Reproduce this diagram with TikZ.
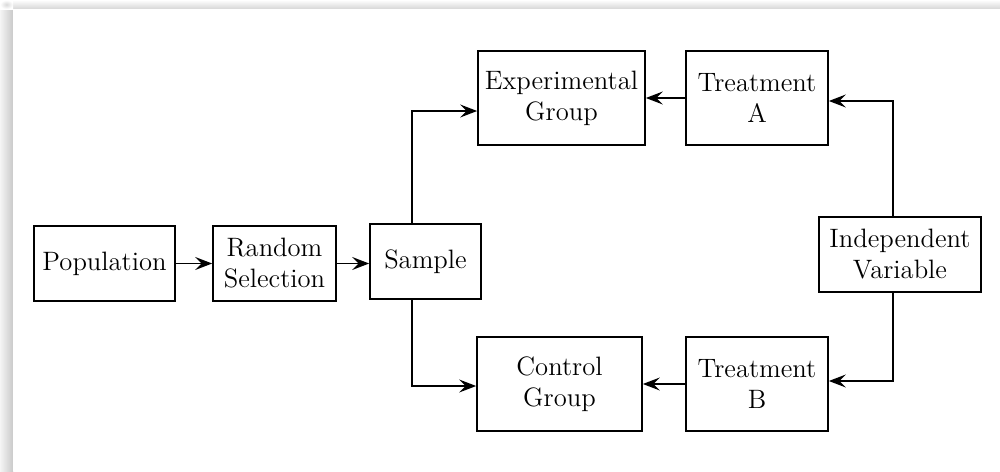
\documentclass[tikz,border=0pt]{standalone}
\usetikzlibrary{arrows.meta}

\tikzset{
  box/.style={draw, line width=0.85pt, inner sep=0pt, align=center,
              font=\fontsize{13.3}{15.5}\selectfont},
  arr/.style={line width=0.85pt,
              -{Stealth[length=8.5pt,width=6.5pt,inset=3.2pt]}},
}

\begin{document}
\begin{tikzpicture}[x=0.5pt,y=-0.5pt]
  \useasboundingbox (0,0) rectangle (1000,471);

  % soft page shadow along the top and left edges
  \shade[top color=white, bottom color=gray!32] (13,0) rectangle (1000,9);
  \shade[left color=gray!8, right color=gray!42] (0,9) rectangle (13,471);
  \shade[inner color=gray!30, outer color=white] (0,0) rectangle (13,9);
  \fill[white] (13,9) rectangle (1000,471);

  % boxes
  \node[box, minimum width=70.5pt, minimum height=37.5pt] (pop)  at (104.5,263.5) {Population};
  \node[box, minimum width=61.5pt, minimum height=37.5pt] (rand) at (274.5,263.5) {Random\\Selection};
  \node[box, minimum width=55.5pt, minimum height=37.5pt] (samp) at (425.5,261.5) {Sample};
  \node[box, minimum width=83.5pt, minimum height=47pt]   (exp)  at (561.5,98)    {Experimental\\Group};
  \node[box, minimum width=71pt,   minimum height=47pt]   (trA)  at (757,98)      {Treatment\\A};
  \node[box, minimum width=81pt,   minimum height=37.5pt] (ind)  at (900,254.5)   {Independent\\Variable};
  \node[box, minimum width=82.5pt, minimum height=47pt]   (ctl)  at (559.5,384)   {Control\\Group};
  \node[box, minimum width=71pt,   minimum height=47pt]   (trB)  at (757,384)     {Treatment\\B};

  % connectors
  \draw[arr] (pop) -- (rand);
  \draw[arr] (rand.east) -- (rand.east -| samp.west);
  \draw[arr] ([xshift=-6.75pt]samp.north) |- ([yshift=-6.5pt]exp.west);
  \draw[arr] ([xshift=-6.75pt]samp.south) |- ([yshift=-1pt]ctl.west);
  \draw[arr] (trA) -- (exp);
  \draw[arr] (trB) -- (ctl);
  \draw[arr] ([xshift=-3.5pt]ind.north) |- ([yshift=-1.5pt]trA.east);
  \draw[arr] ([xshift=-3.5pt]ind.south) |- ([yshift=1.5pt]trB.east);
\end{tikzpicture}
\end{document}
